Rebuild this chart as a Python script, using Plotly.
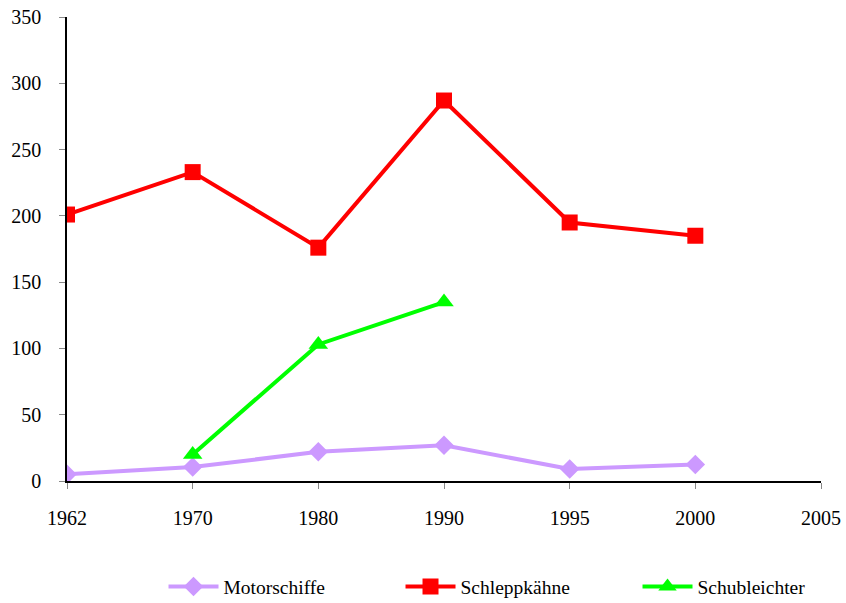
import plotly.graph_objects as go

years = ["1962", "1970", "1980", "1990", "1995", "2000", "2005"]
motor_years = ["1962", "1970", "1980", "1990", "1995", "2000"]
motorschiffe = [5, 10.5, 22, 27, 9, 12.5]
schlepp_years = ["1962", "1970", "1980", "1990", "1995", "2000"]
schleppkaehne = [201, 233, 176, 287, 195, 185]
schub_years = ["1970", "1980", "1990"]
schubleichter = [20, 103, 135]

def pos(ys):
    return [years.index(y) for y in ys]

fig = go.Figure()
fig.add_trace(go.Scatter(x=pos(motor_years), y=motorschiffe, name="Motorschiffe",
                         mode="lines+markers",
                         line=dict(color="#CC99FF", width=4),
                         marker=dict(symbol="diamond", size=15, color="#CC99FF")))
fig.add_trace(go.Scatter(x=pos(schlepp_years), y=schleppkaehne, name="Schleppkähne",
                         mode="lines+markers",
                         line=dict(color="#FF0000", width=4),
                         marker=dict(symbol="square", size=16, color="#FF0000")))
fig.add_trace(go.Scatter(x=pos(schub_years), y=schubleichter, name="Schubleichter",
                         mode="lines+markers",
                         line=dict(color="#00FF00", width=4),
                         marker=dict(symbol="triangle-up", size=17, color="#00FF00")))

fig.update_layout(
    width=846, height=603,
    margin=dict(l=67, r=25, t=17, b=122, autoexpand=False),
    paper_bgcolor="white", plot_bgcolor="white",
    font=dict(family="Liberation Serif, Times New Roman, serif", size=20, color="black"),
    showlegend=True,
    legend=dict(orientation="h", x=0.128, xanchor="left", y=-0.228, yanchor="middle",
                font=dict(size=19.5), entrywidth=172, entrywidthmode="pixels",
                itemwidth=50, tracegroupgap=0),
    xaxis=dict(range=[0, 6], tickvals=list(range(len(years))), ticktext=years,
               showgrid=False, zeroline=False, showline=True, linecolor="black",
               linewidth=1.5, ticks="outside", ticklen=6, tickcolor="#888",
               tickfont=dict(size=20), ticklabelstandoff=12, automargin=False,
               ticklabeloverflow="allow"),
    yaxis=dict(range=[0, 350], dtick=50, showgrid=False, zeroline=False,
               showline=True, linecolor="black", linewidth=1.5, ticks="outside",
               ticklen=6, tickcolor="#888", tickfont=dict(size=20),
               ticklabelstandoff=14, automargin=False, ticklabeloverflow="allow"),
)
fig.write_html("out.html", config={"displayModeBar": False},
               post_script="document.body.style.margin='0';document.body.style.overflow='hidden';")
